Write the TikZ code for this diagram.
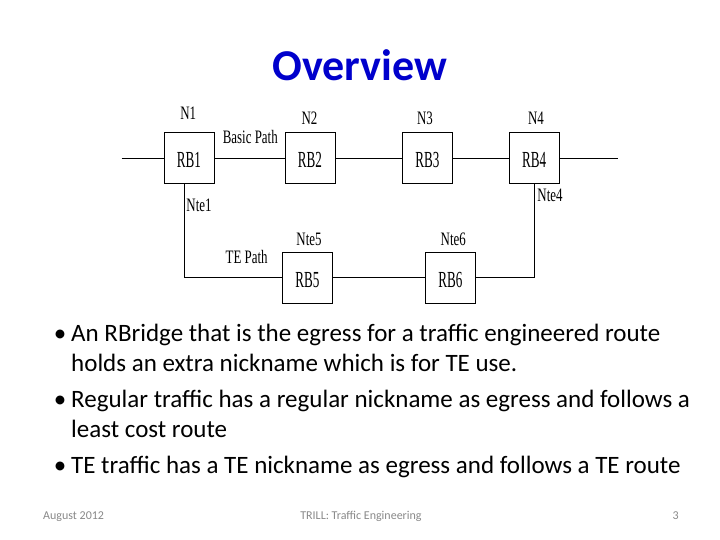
\documentclass[tikz,border=0pt]{standalone}
\usepackage{fontspec}
\setmainfont{Carlito}
\newfontfamily\diagfont[FakeStretch=0.68]{Liberation Serif}
\newfontfamily\boxfont[FakeStretch=0.57]{Liberation Serif}
\definecolor{titleblue}{RGB}{0,0,204}
\definecolor{footgray}{RGB}{137,137,137}
\tikzset{
  rb/.style={draw, line width=1pt, minimum width=50pt, minimum height=51pt, inner sep=0pt, fill=white,
             text height=19pt, text depth=0pt,
             font=\boxfont\fontsize{23}{23}\selectfont},
  lbl/.style={inner sep=0pt, font=\diagfont\fontsize{19}{19}\selectfont},
  wire/.style={line width=1pt},
  body/.style={inner sep=0pt, anchor=base west, font=\fontsize{25}{30}\selectfont},
  bul/.style={inner sep=0pt, anchor=base, font=\fontsize{25}{30}\selectfont},
  foot/.style={inner sep=0pt, text=footgray, font=\fontsize{12}{14}\selectfont},
}
\begin{document}
\begin{tikzpicture}[x=1pt,y=-1pt]
\useasboundingbox[fill=white] (0,0) rectangle (720,540);

% title
\node[inner sep=0pt, anchor=base, text=titleblue, font=\bfseries\fontsize{44}{50}\selectfont] (title) at (360,81) {Overview};

% diagram
\coordinate (lin) at (121.7,158.5);
\coordinate (rin) at (618.3,158.5);
\node[rb] (rb1) at (189,158.5) {RB1};
\node[rb] (rb2) at (310,158.5) {RB2};
\node[rb] (rb3) at (427.3,158.5) {RB3};
\node[rb] (rb4) at (534.2,158.5) {RB4};
\node[rb] (rb5) at (307.3,277.5) {RB5};
\node[rb] (rb6) at (450.3,277.5) {RB6};

\draw[wire] (lin) -- (rb1);
\draw[wire] (rb1) -- (rb2);
\draw[wire] (rb2) -- (rb3);
\draw[wire] (rb3) -- (rb4);
\draw[wire] (rb4) -- (rin);
\draw[wire] ([xshift=-4.7pt]rb1.south) |- (rb5.west);
\draw[wire] (rb5) -- (rb6);
\draw[wire] (rb6.east) -| (rb4.south);

\node[lbl] (n1) at (188.3,113) {N1};
\node[lbl] (bp) at (250.3,137) {Basic Path};
\node[lbl] (n2) at (309.5,118.5) {N2};
\node[lbl] (n3) at (425,118.5) {N3};
\node[lbl] (n4) at (536,118.5) {N4};
\node[lbl] (nte1) at (199,205) {Nte1};
\node[lbl] (nte4) at (550,195) {Nte4};
\node[lbl] (nte5) at (309,239) {Nte5};
\node[lbl] (nte6) at (453.3,239) {Nte6};
\node[lbl] (tep) at (246.7,257) {TE Path};

% bullets
\node[bul] (b1) at (60,341) {•};
\node[body] (l1) at (71,341) {An RBridge that is the egress for a traffic engineered route};
\node[body] (l2) at (71,371) {holds an extra nickname which is for TE use.};
\node[bul] (b2) at (60,407) {•};
\node[body] (l3) at (71,407) {Regular traffic has a regular nickname as egress and follows a};
\node[body] (l4) at (71,437) {least cost route};
\node[bul] (b3) at (60,473) {•};
\node[body] (l5) at (71,473) {TE traffic has a TE nickname as egress and follows a TE route};

% footer
\node[foot, anchor=base west] (f1) at (43,519) {August 2012};
\node[foot, anchor=base] (f2) at (361,519) {TRILL: Traffic Engineering};
\node[foot, anchor=base east] (f3) at (679,519) {3};
\end{tikzpicture}
\end{document}
